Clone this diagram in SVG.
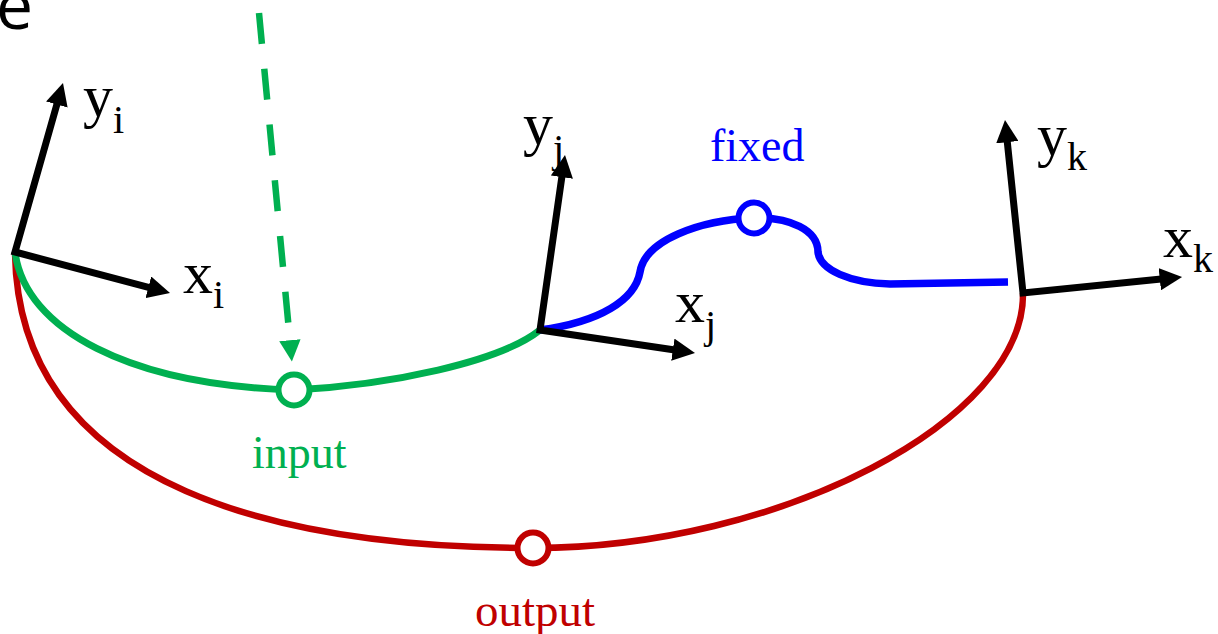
<svg xmlns="http://www.w3.org/2000/svg" width="1218" height="634" viewBox="0 0 1218 634">
<style>
  .lbl { font-family: "Liberation Serif", "Times New Roman", serif; }
  .ax { font-size: 60px; fill: #000; }
  .sub { font-size: 40px; }
  .axis { fill: none; stroke: #000; stroke-width: 7; stroke-linejoin: miter; }
  .curve { fill: none; stroke-linecap: butt; }
  .pt { fill: #fff; stroke-width: 6; }
</style>
<defs>
  <marker id="ahBlack" viewBox="0 0 10 10" refX="4" refY="5" markerWidth="3.2" markerHeight="3.2" markerUnits="strokeWidth" orient="auto-start-reverse">
    <path d="M0,0 L10,5 L0,10 z" fill="#000"/>
  </marker>
  <marker id="ahGreen" viewBox="0 0 10 10" refX="4" refY="5" markerWidth="3.3" markerHeight="3.3" markerUnits="strokeWidth" orient="auto">
    <path d="M0,0 L10,5 L0,10 z" fill="#00B050"/>
  </marker>
</defs>
<rect width="1218" height="634" fill="#fff"/>

<text x="-4" y="29" font-family="'Open Sans', 'Liberation Sans', Arial, sans-serif" font-size="66" fill="#000">e</text>

<g id="connectors">
  <path id="output-curve" class="curve" stroke="#C00000" stroke-width="6.5" d="M15,252 C18,495 295,548 533,548 C780,548 1025,420 1023,293"/>
  <path id="input-curve" class="curve" stroke="#00B050" stroke-width="7" d="M15,252 C25,330 130,385 294,390 C390,385 500,362 540,330"/>
  <path id="fixed-curve" class="curve" stroke="#0000FF" stroke-width="7.5" d="M540,330 C600,322 635,300 640,272 C645,240 700,220 754,218 C790,217 818,230 818,252 C820,270 850,283 890,284 L1008,282"/>
  <path id="input-arrow" fill="none" stroke="#00B050" stroke-width="6.5" stroke-dasharray="31 25" marker-end="url(#ahGreen)" d="M259,13 L290.7,348.7"/>
</g>

<g id="frame-i">
  <path class="axis" d="M59.3,95.9 L15,252 L157,289.6" marker-start="url(#ahBlack)" marker-end="url(#ahBlack)"/>
  <text class="lbl ax" x="83" y="116">y<tspan class="sub" dy="17">i</tspan></text>
  <text class="lbl ax" x="183" y="293">x<tspan class="sub" dy="15">i</tspan></text>
</g>

<g id="frame-j">
  <path class="axis" d="M563.1,168.3 L540,330 L681.7,351" marker-start="url(#ahBlack)" marker-end="url(#ahBlack)"/>
  <text class="lbl ax" x="523" y="144">y<tspan class="sub" dy="18">j</tspan></text>
  <text class="lbl ax" x="675" y="322">x<tspan class="sub" dy="16">j</tspan></text>
</g>

<g id="frame-k">
  <path class="axis" d="M1006.4,133.3 L1023,293 L1168.7,278.3" marker-start="url(#ahBlack)" marker-end="url(#ahBlack)"/>
  <text class="lbl ax" x="1037" y="155">y<tspan class="sub" dy="15">k</tspan></text>
  <text class="lbl ax" x="1163" y="257">x<tspan class="sub" dy="15">k</tspan></text>
</g>

<g id="input">
  <circle class="pt" cx="294" cy="390" r="15.5" stroke="#00B050"/>
  <text class="lbl" x="252" y="468" font-size="46" fill="#00B050">input</text>
</g>

<g id="output">
  <circle class="pt" cx="533" cy="548" r="15.5" stroke="#C00000"/>
  <text class="lbl" x="475" y="626" font-size="47" fill="#C00000">output</text>
</g>

<g id="fixed">
  <circle class="pt" cx="754" cy="218" r="15.5" stroke="#0000FF"/>
  <text class="lbl" x="710" y="161" font-size="46" fill="#0000FF">fixed</text>
</g>
</svg>
